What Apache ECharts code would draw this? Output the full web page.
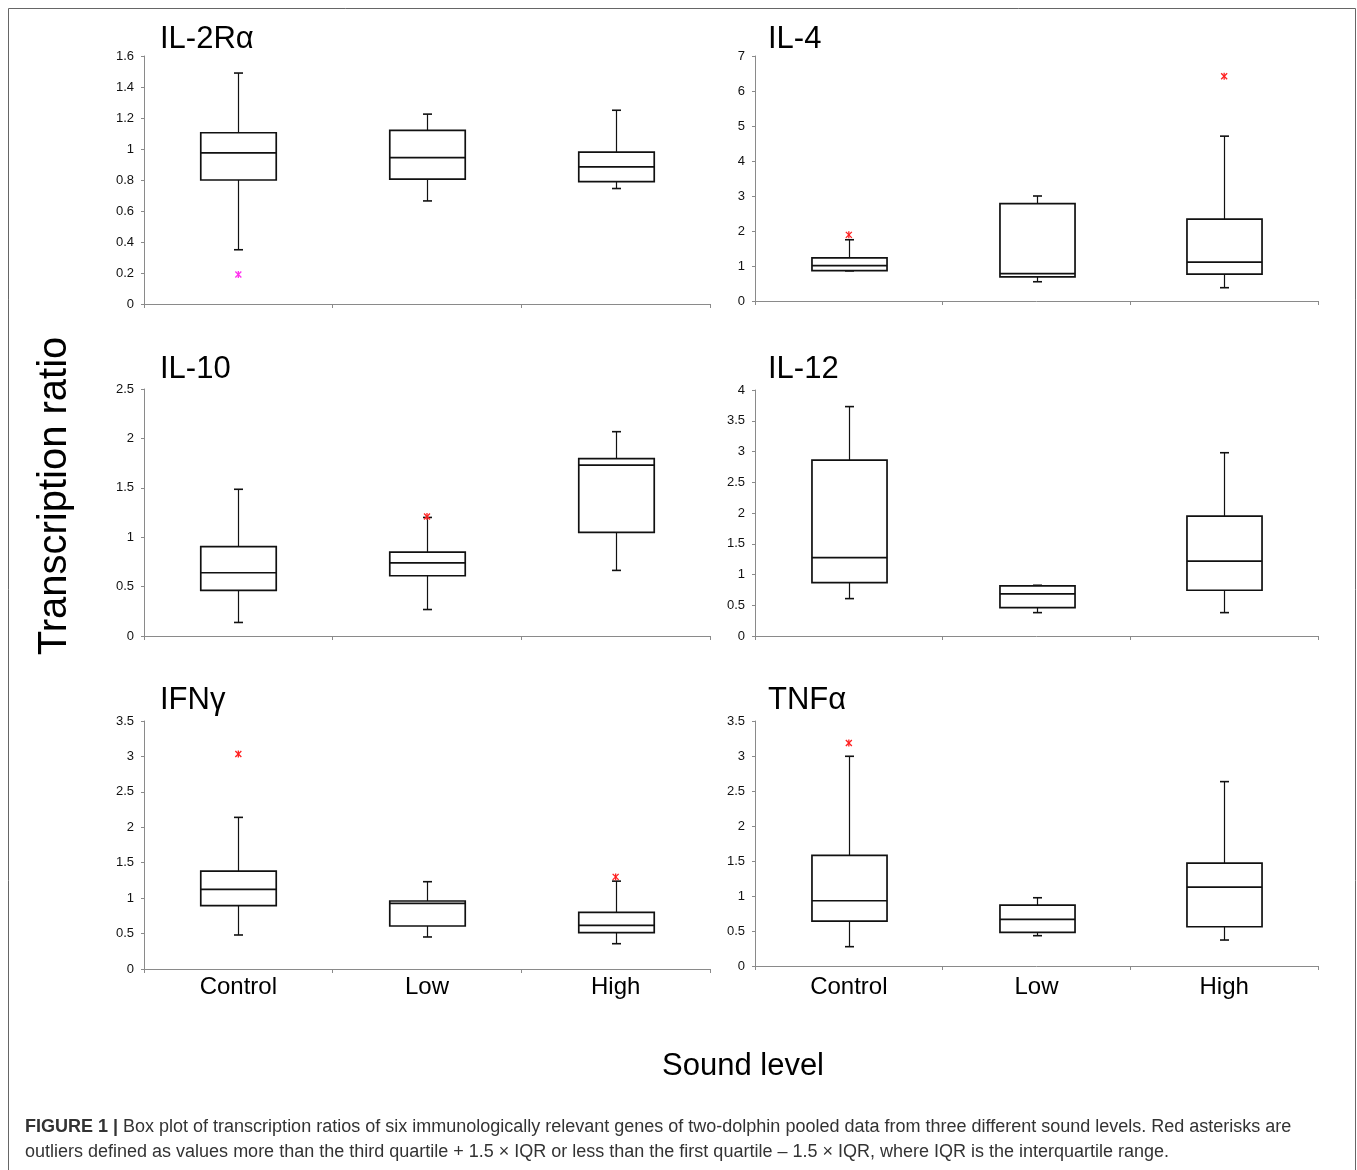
<!DOCTYPE html>
<html>
<head>
<meta charset="utf-8">
<script src="https://cdn.jsdelivr.net/npm/echarts@6/dist/echarts.min.js"></script>
<style>
html,body{margin:0;padding:0;background:#fff;}
#chart{width:1357px;height:1170px;}
</style>
</head>
<body>
<div id="chart"></div>
<script>
// ---------- data ----------
const categories = ['Control', 'Low', 'High'];

// each row: [low whisker, Q1, median, Q3, high whisker]
const il2raBox = [[0.35, 0.80, 0.975, 1.105, 1.49], [0.665, 0.805, 0.945, 1.12, 1.225], [0.745, 0.79, 0.885, 0.98, 1.25]];
const il2raOut = [[0, 0.19]];

const il4Box = [[0.86, 0.87, 1.01, 1.23, 1.75], [0.55, 0.69, 0.78, 2.78, 3.0], [0.38, 0.77, 1.11, 2.34, 4.71]];
const il4Out = [[0, 1.89], [2, 6.42]];

const il10Box = [[0.137, 0.462, 0.64, 0.905, 1.485], [0.268, 0.61, 0.74, 0.848, 1.2], [0.664, 1.049, 1.729, 1.796, 2.068]];
const il10Out = [[1, 1.21]];

const il12Box = [[0.608, 0.868, 1.275, 2.86, 3.73], [0.38, 0.461, 0.684, 0.814, 0.825], [0.38, 0.744, 1.216, 1.95, 2.98]];
const il12Out = [];

const ifngBox = [[0.48, 0.894, 1.124, 1.382, 2.14], [0.452, 0.607, 0.927, 0.96, 1.232], [0.357, 0.513, 0.616, 0.80, 1.24]];
const ifngOut = [[0, 3.034], [2, 1.30]];

const tnfaBox = [[0.276, 0.642, 0.932, 1.579, 2.996], [0.433, 0.48, 0.666, 0.87, 0.975], [0.371, 0.561, 1.127, 1.469, 2.634]];
const tnfaOut = [[0, 3.186]];

const panelTitles = ['IL-2R\u03b1', 'IL-4', 'IL-10', 'IL-12', 'IFN\u03b3', 'TNF\u03b1'];
const yMax = [1.6, 7, 2.5, 4, 3.5, 3.5];
const yStep = [0.2, 1, 0.5, 0.5, 0.5, 0.5];
const boxes = [il2raBox, il4Box, il10Box, il12Box, ifngBox, tnfaBox];
const outliers = [il2raOut, il4Out, il10Out, il12Out, ifngOut, tnfaOut];
const outlierColors = ['#ff33ee', '#ff2020', '#ff2020', '#ff2020', '#ff2020', '#ff2020'];

// ---------- layout ----------
const FONT = '"Liberation Sans", Arial, Helvetica, sans-serif';
const gridRects = [
  {left: 144, top: 56, width: 566, height: 248},
  {left: 755, top: 56, width: 563, height: 245},
  {left: 144, top: 389, width: 566, height: 247},
  {left: 755, top: 390, width: 563, height: 246},
  {left: 144, top: 721, width: 566, height: 248},
  {left: 755, top: 721, width: 563, height: 245}
];
const labelMargins = [6, 6, 6, 6, 6, 9];
const titlePos = [[160, 39], [768, 39], [160, 369], [768, 369], [160, 700], [768, 700]];

const AXIS_COLOR = '#8a8a8a';

const grids = gridRects.map(r => Object.assign({containLabel: false}, r));
const xAxes = gridRects.map((r, i) => ({
  type: 'category', gridIndex: i, data: categories,
  axisLine: {show: true, lineStyle: {color: AXIS_COLOR, width: 1}},
  axisTick: {show: true, length: 4, lineStyle: {color: AXIS_COLOR}},
  axisLabel: {show: i >= 4, fontSize: 24, color: '#000', fontFamily: FONT, margin: labelMargins[i]},
  splitLine: {show: false}
}));
const yAxes = gridRects.map((r, i) => ({
  type: 'value', gridIndex: i, min: 0, max: yMax[i], interval: yStep[i],
  axisLine: {show: true, lineStyle: {color: AXIS_COLOR, width: 1}},
  axisTick: {show: true, length: 3, lineStyle: {color: AXIS_COLOR}},
  axisLabel: {fontSize: 13, color: '#111', fontFamily: FONT, margin: 10},
  splitLine: {show: false}
}));

function renderBox(params, api) {
  const cat = api.value(0);
  const lo = api.coord([cat, api.value(1)]);
  const q1 = api.coord([cat, api.value(2)]);
  const md = api.coord([cat, api.value(3)]);
  const q3 = api.coord([cat, api.value(4)]);
  const hi = api.coord([cat, api.value(5)]);
  const band = api.size([1, 0])[0];
  const w = band * 0.4;
  const cap = 9;
  const x = Math.round(lo[0]) + 0.5;
  const ws = {stroke: '#111', lineWidth: 1.2, fill: null};
  const bs = {stroke: '#111', lineWidth: 1.7, fill: '#fff'};
  return {
    type: 'group',
    children: [
      {type: 'line', shape: {x1: x, y1: hi[1], x2: x, y2: q3[1]}, style: ws},
      {type: 'line', shape: {x1: x, y1: q1[1], x2: x, y2: lo[1]}, style: ws},
      {type: 'line', shape: {x1: x - cap / 2, y1: hi[1], x2: x + cap / 2, y2: hi[1]}, style: {stroke: '#111', lineWidth: 1.6}},
      {type: 'line', shape: {x1: x - cap / 2, y1: lo[1], x2: x + cap / 2, y2: lo[1]}, style: {stroke: '#111', lineWidth: 1.6}},
      {type: 'rect', shape: {x: x - w / 2, y: q3[1], width: w, height: q1[1] - q3[1]}, style: bs},
      {type: 'line', shape: {x1: x - w / 2, y1: md[1], x2: x + w / 2, y2: md[1]}, style: {stroke: '#111', lineWidth: 1.7}}
    ]
  };
}

function renderOutlier(params, api) {
  const p = api.coord([api.value(0), api.value(1)]);
  const s = 3;
  const st = {stroke: api.visual('color'), lineWidth: 1.3};
  return {
    type: 'group',
    children: [
      {type: 'line', shape: {x1: p[0] - s, y1: p[1] - s, x2: p[0] + s, y2: p[1] + s}, style: st},
      {type: 'line', shape: {x1: p[0] + s, y1: p[1] - s, x2: p[0] - s, y2: p[1] + s}, style: st},
      {type: 'line', shape: {x1: p[0], y1: p[1] - s - 0.5, x2: p[0], y2: p[1] + s + 0.5}, style: st}
    ]
  };
}

const series = [];
boxes.forEach((b, i) => {
  series.push({
    type: 'custom', xAxisIndex: i, yAxisIndex: i,
    renderItem: renderBox,
    encode: {x: 0, y: [1, 2, 3, 4, 5]},
    data: b.map((v, k) => [k].concat(v)),
    silent: true
  });
  series.push({
    type: 'custom', xAxisIndex: i, yAxisIndex: i,
    renderItem: renderOutlier,
    itemStyle: {color: outlierColors[i]},
    encode: {x: 0, y: 1},
    data: outliers[i],
    silent: true, z: 5
  });
});

const graphics = [
  {type: 'rect', shape: {x: 8.5, y: 8.5, width: 1347, height: 1200}, style: {fill: null, stroke: '#666', lineWidth: 1}, silent: true}
];
panelTitles.forEach((t, i) => {
  graphics.push({type: 'text', x: titlePos[i][0], y: titlePos[i][1],
    style: {text: t, fontSize: 31, fontFamily: FONT, fill: '#000', textVerticalAlign: 'middle', textAlign: 'left'}});
});
graphics.push({type: 'text', x: 55, y: 496, rotation: Math.PI / 2,
  style: {text: 'Transcription ratio', fontSize: 40, fontFamily: FONT, fill: '#000', textAlign: 'center', textVerticalAlign: 'middle'}});
graphics.push({type: 'text', x: 743, y: 1066,
  style: {text: 'Sound level', fontSize: 31, fontFamily: FONT, fill: '#000', textAlign: 'center', textVerticalAlign: 'middle'}});
graphics.push({type: 'text', x: 25, y: 1127,
  style: {text: '{b|FIGURE 1 |} Box plot of transcription ratios of six immunologically relevant genes of two-dolphin pooled data from three different sound levels. Red asterisks are',
    fontSize: 18, fontFamily: FONT, fill: '#333', textVerticalAlign: 'middle',
    rich: {b: {fontWeight: 'bold', fontSize: 18, fontFamily: FONT, fill: '#333'}}}});
graphics.push({type: 'text', x: 25, y: 1152,
  style: {text: 'outliers defined as values more than the third quartile + 1.5 \u00d7 IQR or less than the first quartile \u2013 1.5 \u00d7 IQR, where IQR is the interquartile range.',
    fontSize: 18, fontFamily: FONT, fill: '#333', textVerticalAlign: 'middle'}});

const chart = echarts.init(document.getElementById('chart'), null, {renderer: 'canvas'});
chart.setOption({
  animation: false,
  backgroundColor: '#fff',
  grid: grids,
  xAxis: xAxes,
  yAxis: yAxes,
  series: series,
  graphic: graphics
});
</script>
</body>
</html>
